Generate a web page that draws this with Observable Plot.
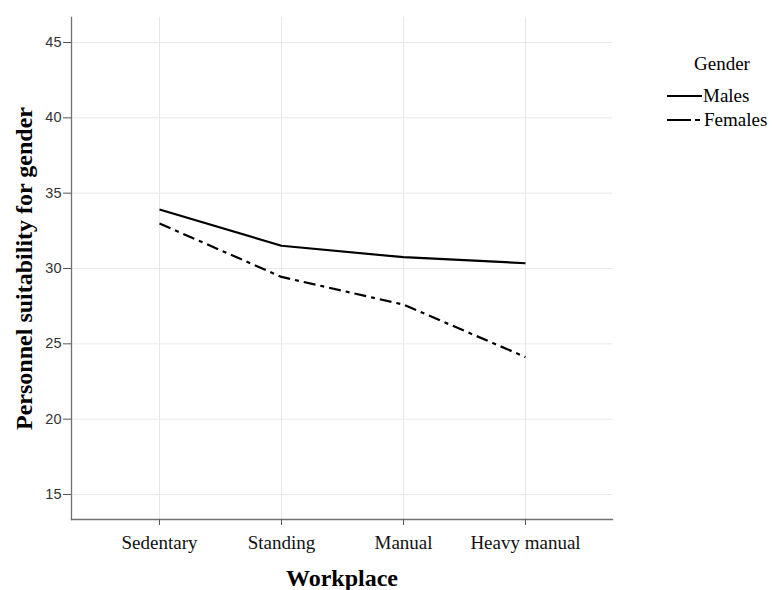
<!DOCTYPE html>
<html>
<head>
<meta charset="utf-8">
<script src="https://cdn.jsdelivr.net/npm/d3@7"></script>
<script src="https://cdn.jsdelivr.net/npm/@observablehq/plot@0.6"></script>
<style>
  html, body { margin: 0; padding: 0; background: #fff; }
  #wrap { position: relative; width: 772px; height: 590px; }
  #legend { position: absolute; left: 660px; top: 52px; width: 112px; font-family: "Liberation Serif", "Times New Roman", serif; font-size: 19px; color: #000; }
</style>
</head>
<body>
<div id="wrap"><div id="legend"></div></div>
<script>
const categories = ["Sedentary", "Standing", "Manual", "Heavy manual"];
const males = [33.92, 31.51, 30.75, 30.35];
const females = [32.99, 29.44, 27.6, 24.12];
const yTicks = [15, 20, 25, 30, 35, 40, 45];
const seriesNames = ["Males", "Females"];

const data = [];
categories.forEach((c, i) => {
  data.push({workplace: c, gender: "Males", value: males[i]});
  data.push({workplace: c, gender: "Females", value: females[i]});
});

const dashes = {Males: null, Females: "12,5,4,5"};

const chart = Plot.plot({
  width: 772,
  height: 590,
  marginLeft: 71,
  marginRight: 160,
  marginTop: 17,
  marginBottom: 71,
  style: {background: "#fff"},
  x: {type: "point", domain: categories, padding: 0.717, label: null},
  y: {domain: [13.34, 46.66], label: null},
  marks: [
    Plot.gridX(categories, {stroke: "#e8e8e8", strokeOpacity: 1, strokeWidth: 1}),
    Plot.gridY(yTicks, {stroke: "#e8e8e8", strokeOpacity: 1, strokeWidth: 1}),
    Plot.frame({anchor: "left", stroke: "#707070", strokeWidth: 1.3}),
    Plot.frame({anchor: "bottom", stroke: "#707070", strokeWidth: 1.3}),
    Plot.axisY(yTicks, {tickSize: 8, tickPadding: 2, stroke: "#555", fontSize: 14.5, fontFamily: "Liberation Sans, Arial, sans-serif", fill: "#333", label: null}),
    Plot.axisX(categories, {tickSize: 6, tickPadding: 10, stroke: "#555", fontSize: 19, fontFamily: "Liberation Serif, Times New Roman, serif", fill: "#111", label: null}),
    ...seriesNames.map(g => Plot.line(data.filter(d => d.gender === g), {
      x: "workplace", y: "value", stroke: "#000", strokeWidth: 2.2,
      strokeDasharray: dashes[g], strokeLinecap: "butt"
    })),
    Plot.text(["Personnel suitability for gender"], {frameAnchor: "left", dx: -47, rotate: -90, textAnchor: "middle", lineAnchor: "middle", fontSize: 24, fontWeight: "bold", fontFamily: "Liberation Serif, Times New Roman, serif", fill: "#000"}),
    Plot.text(["Workplace"], {frameAnchor: "bottom", dy: 59, textAnchor: "middle", lineAnchor: "middle", fontSize: 24, fontWeight: "bold", fontFamily: "Liberation Serif, Times New Roman, serif", fill: "#000"})
  ]
});
document.getElementById("wrap").prepend(chart);

// legend
const legend = document.getElementById("legend");
legend.innerHTML = `
<div style="text-align:center; margin-left:12px; line-height:22px; margin-top:1px;">Gender</div>
<div style="display:flex; align-items:center; height:24px; margin-top:9px;">
  <svg width="36" height="10" style="margin-left:7px"><line x1="0" x2="35" y1="5" y2="5" stroke="#000" stroke-width="2.2"/></svg><span>${seriesNames[0]}</span>
</div>
<div style="display:flex; align-items:center; height:24px;">
  <svg width="36" height="10" style="margin-left:7px"><line x1="0" x2="33" y1="5" y2="5" stroke="#000" stroke-width="2.2" stroke-dasharray="24,4,5,5"/></svg><span style="margin-left:1px">${seriesNames[1]}</span>
</div>`;
</script>
</body>
</html>
